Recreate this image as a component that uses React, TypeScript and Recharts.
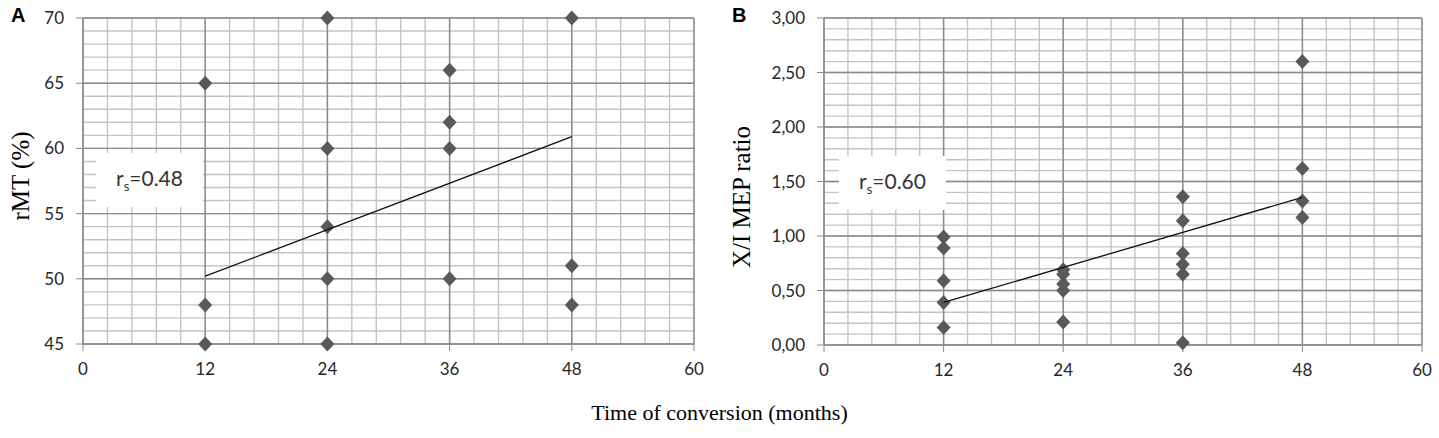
import React from 'react'
import { ComposedChart, Scatter, XAxis, YAxis, CartesianGrid } from 'recharts'

// time of conversion (months)
const monthTicks = [0, 12, 24, 36, 48, 60]

// panel A: rMT (%) per conversion time
const rmt12 = [65, 48, 45]
const rmt24 = [70, 60, 54, 50, 45]
const rmt36 = [66, 62, 60, 50]
const rmt48 = [70, 51, 48]
const rmtTicks = [45, 50, 55, 60, 65, 70]
const rmtTrend = [
  { x: 12, y: 50.2 },
  { x: 48, y: 60.9 },
]

// panel B: X/I MEP ratio per conversion time
const ratio12 = [0.99, 0.89, 0.59, 0.39, 0.16]
const ratio24 = [0.69, 0.65, 0.56, 0.5, 0.21]
const ratio36 = [1.36, 1.14, 0.84, 0.74, 0.65, 0.02]
const ratio48 = [2.6, 1.62, 1.32, 1.17]
const ratioTicks = [0, 0.5, 1, 1.5, 2, 2.5, 3]
const ratioTrend = [
  { x: 12, y: 0.39 },
  { x: 48, y: 1.355 },
]

const toPoints = (groups: Array<[number, number[]]>) =>
  groups.flatMap(([x, ys]) => ys.map((y) => ({ x, y })))

const rmtPoints = toPoints([[12, rmt12], [24, rmt24], [36, rmt36], [48, rmt48]])
const ratioPoints = toPoints([[12, ratio12], [24, ratio24], [36, ratio36], [48, ratio48]])

// grid subdivisions (5 per major step)
const minorX = Array.from({ length: 26 }, (_, i) => i * 2.4)
const majorX = monthTicks
const minorRmt = Array.from({ length: 26 }, (_, i) => 45 + i)
const minorRatio = Array.from({ length: 31 }, (_, i) => i / 10)

const TICK = { fontSize: 17, fill: '#262626', fontFamily: 'Lato, sans-serif' }
const AXIS = '#8a8a8a'

const Diamond = (p: any) => (
  <path
    d={`M${p.cx},${p.cy - 7.5}L${p.cx + 7},${p.cy}L${p.cx},${p.cy + 7.5}L${p.cx - 7},${p.cy}Z`}
    fill="#595959"
  />
)

interface PanelProps {
  width: number
  margin: { top: number; right: number; bottom: number; left: number }
  points: Array<{ x: number; y: number }>
  trend: Array<{ x: number; y: number }>
  yDomain: [number, number]
  yTicks: number[]
  minorY: number[]
  fmt?: (v: number) => string
}

function Panel({ width, margin, points, trend, yDomain, yTicks, minorY, fmt }: PanelProps) {
  return (
    <ComposedChart width={width} height={438} margin={margin}>
      <CartesianGrid stroke="#c4c4c4" strokeWidth={1.4} verticalValues={minorX} horizontalValues={minorY} />
      <CartesianGrid stroke={AXIS} strokeWidth={1.4} verticalValues={majorX} horizontalValues={yTicks} />
      <XAxis
        type="number"
        dataKey="x"
        domain={[0, 60]}
        ticks={monthTicks}
        interval={0}
        tick={TICK}
        stroke={AXIS}
        tickSize={7}
        tickMargin={12}
        height={30}
      />
      <YAxis
        type="number"
        dataKey="y"
        domain={yDomain}
        ticks={yTicks}
        interval={0}
        tick={TICK}
        stroke={AXIS}
        tickSize={7}
        tickMargin={12}
        width={60}
        tickFormatter={fmt}
      />
      <Scatter data={points} shape={Diamond} isAnimationActive={false} />
      <Scatter
        data={trend}
        line={{ stroke: '#111', strokeWidth: 1.3 }}
        shape={() => <g />}
        isAnimationActive={false}
      />
    </ComposedChart>
  )
}

const serif = '"Liberation Serif", "Times New Roman", serif'

function RsBox({ left, top, value }: { left: number; top: number; value: string }) {
  return (
    <div
      style={{
        position: 'absolute',
        left,
        top,
        width: 107,
        height: 54,
        background: '#fff',
        fontFamily: 'Lato, sans-serif',
        fontSize: 21,
        color: '#333',
        display: 'flex',
        alignItems: 'center',
        justifyContent: 'center',
      }}
    >
      <span>
        r<sub style={{ fontSize: 13 }}>s</sub>={value}
      </span>
    </div>
  )
}

function YLabel({ cx, cy, text }: { cx: number; cy: number; text: string }) {
  return (
    <div
      style={{
        position: 'absolute',
        left: cx - 150,
        top: cy - 14,
        width: 300,
        height: 28,
        lineHeight: '28px',
        textAlign: 'center',
        transform: 'rotate(-90deg)',
        fontFamily: serif,
        fontSize: 25,
        color: '#000',
      }}
    >
      {text}
    </div>
  )
}

export default function App() {
  return (
    <div style={{ position: 'absolute', left: 0, top: 0, width: 1439, height: 438, background: '#fff' }}>
      <div style={{ position: 'absolute', left: 0, top: 0 }}>
        <Panel
          width={710}
          margin={{ top: 18, right: 16, bottom: 64, left: 23 }}
          points={rmtPoints}
          trend={rmtTrend}
          yDomain={[45, 70]}
          yTicks={rmtTicks}
          minorY={minorRmt}
        />
      </div>
      <div style={{ position: 'absolute', left: 720, top: 0 }}>
        <Panel
          width={719}
          margin={{ top: 18, right: 17, bottom: 63, left: 44 }}
          points={ratioPoints}
          trend={ratioTrend}
          yDomain={[0, 3]}
          yTicks={ratioTicks}
          minorY={minorRatio}
          fmt={(v) => v.toFixed(2).replace('.', ',')}
        />
      </div>
      <RsBox left={96} top={153} value="0.48" />
      <RsBox left={839} top={156} value="0.60" />
      <YLabel cx={21} cy={176} text="rMT (%)" />
      <YLabel cx={742} cy={197} text="X/I MEP ratio" />
      <div style={{ position: 'absolute', left: 11, top: 4, fontFamily: '"Liberation Sans", Arial, sans-serif', fontWeight: 'bold', fontSize: 20 }}>A</div>
      <div style={{ position: 'absolute', left: 732, top: 4, fontFamily: '"Liberation Sans", Arial, sans-serif', fontWeight: 'bold', fontSize: 20 }}>B</div>
      <div
        style={{
          position: 'absolute',
          left: 0,
          width: 1439,
          top: 400,
          textAlign: 'center',
          fontFamily: serif,
          fontSize: 22,
          color: '#000',
        }}
      >
        Time of conversion (months)
      </div>
    </div>
  )
}
